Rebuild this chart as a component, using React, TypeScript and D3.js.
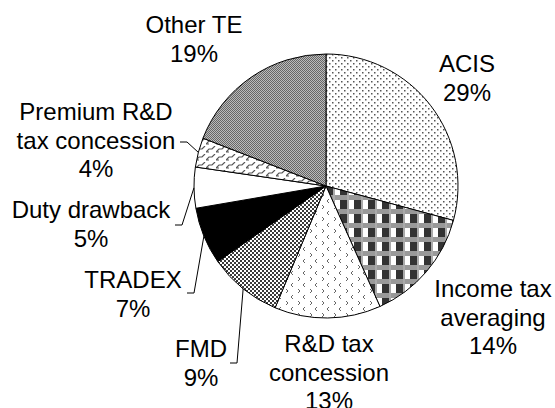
import React, { useEffect, useRef } from 'react';
import * as d3 from 'd3';

// slice names (clockwise from 12 o'clock) and their shares
const names = ['ACIS', 'Income tax averaging', 'R&D tax concession', 'FMD', 'TRADEX', 'Duty drawback', 'Premium R&D tax concession', 'Other TE'];
const shares = [29.2, 14.1, 13.0, 9.0, 7.0, 5.0, 3.6, 19.1];
const pctLabels = ['29%', '14%', '13%', '9%', '7%', '5%', '4%', '19%'];
const labelLines = [
  ['ACIS'],
  ['Income tax', 'averaging'],
  ['R&D tax', 'concession'],
  ['FMD'],
  ['TRADEX'],
  ['Duty drawback'],
  ['Premium R&D', 'tax concession'],
  ['Other TE'],
];

const W = 555, H = 408;
const cx = 326, cy = 186, R = 132;

// label layout: centre x, first baseline, leader line start (or null)
const labelPos: [number, number, number[] | null][] = [
  [467, 72, null],
  [493, 297, null],
  [329, 352, null],
  [201, 357, [230, 363]],
  [133, 288, [187, 293]],
  [91, 218, [175, 225]],
  [96, 120, [180, 142]],
  [194, 33, null],
];

const fills = ['url(#pDots)', 'url(#pPlaid)', 'url(#pDivot)', 'url(#pSq)', '#000', '#fff', 'url(#pWave)', 'url(#pGrey)'];

export default function App() {
  const ref = useRef<SVGSVGElement>(null);

  useEffect(() => {
    const svg = d3.select(ref.current);
    svg.selectAll('*').remove();

    const defs = svg.append('defs');
    // sparse grey dots
    const dots = defs.append('pattern').attr('id', 'pDots').attr('patternUnits', 'userSpaceOnUse').attr('width', 6).attr('height', 6);
    dots.append('rect').attr('width', 6).attr('height', 6).attr('fill', '#fff');
    dots.append('rect').attr('x', 0).attr('y', 0).attr('width', 1.5).attr('height', 1.5).attr('fill', '#555');
    dots.append('rect').attr('x', 3).attr('y', 3).attr('width', 1.5).attr('height', 1.5).attr('fill', '#555');

    // plaid
    const plaid = defs.append('pattern').attr('id', 'pPlaid').attr('patternUnits', 'userSpaceOnUse').attr('width', 14).attr('height', 14);
    plaid.append('rect').attr('width', 14).attr('height', 14).attr('fill', '#fff');
    plaid.append('rect').attr('x', 0).attr('y', 0).attr('width', 7).attr('height', 9).attr('fill', '#333');
    plaid.append('rect').attr('x', 0).attr('y', 9).attr('width', 14).attr('height', 5).attr('fill', '#999');
    plaid.append('rect').attr('x', 7).attr('y', 0).attr('width', 2).attr('height', 14).attr('fill', '#aaa');

    // divot chevrons
    const div = defs.append('pattern').attr('id', 'pDivot').attr('patternUnits', 'userSpaceOnUse').attr('width', 12).attr('height', 12);
    div.append('rect').attr('width', 12).attr('height', 12).attr('fill', '#fff');
    div.append('path').attr('d', 'M3,1 L1,3 L3,5').attr('fill', 'none').attr('stroke', '#666').attr('stroke-width', 1);
    div.append('path').attr('d', 'M8,7 L10,9 L8,11').attr('fill', 'none').attr('stroke', '#666').attr('stroke-width', 1);

    // small dark squares
    const sq = defs.append('pattern').attr('id', 'pSq').attr('patternUnits', 'userSpaceOnUse').attr('width', 4).attr('height', 4);
    sq.append('rect').attr('width', 4).attr('height', 4).attr('fill', '#fff');
    sq.append('rect').attr('x', 0).attr('y', 0).attr('width', 2).attr('height', 2).attr('fill', '#3a3a3a');
    sq.append('rect').attr('x', 2).attr('y', 2).attr('width', 2).attr('height', 2).attr('fill', '#3a3a3a');

    // wave
    const wave = defs.append('pattern').attr('id', 'pWave').attr('patternUnits', 'userSpaceOnUse').attr('width', 10).attr('height', 8);
    wave.append('rect').attr('width', 10).attr('height', 8).attr('fill', '#fff');
    wave.append('path').attr('d', 'M0,6 L3,3 L6,3 L9,0 M0,6 L3,6').attr('fill', 'none').attr('stroke', '#555').attr('stroke-width', 1.2);

    // grey checker
    const grey = defs.append('pattern').attr('id', 'pGrey').attr('patternUnits', 'userSpaceOnUse').attr('width', 2).attr('height', 2);
    grey.append('rect').attr('width', 2).attr('height', 2).attr('fill', '#bbb');
    grey.append('rect').attr('width', 1).attr('height', 1).attr('fill', '#666');
    grey.append('rect').attr('x', 1).attr('y', 1).attr('width', 1).attr('height', 1).attr('fill', '#666');

    const pie = d3.pie<number>().sort(null).value(d => d);
    const arcs = pie(shares);
    const arc = d3.arc<d3.PieArcDatum<number>>().innerRadius(0).outerRadius(R);
    const edge = d3.arc<d3.PieArcDatum<number>>().innerRadius(R).outerRadius(R);

    const g = svg.append('g').attr('transform', `translate(${cx},${cy})`);
    g.selectAll('path.slice')
      .data(arcs)
      .enter()
      .append('path')
      .attr('class', 'slice')
      .attr('d', arc)
      .attr('fill', (d, i) => fills[i])
      .attr('stroke', '#000')
      .attr('stroke-width', 1);

    // leader lines
    arcs.forEach((d, i) => {
      const start = labelPos[i][2];
      if (!start) return;
      const [ex, ey] = edge.centroid(d);
      const pts: [number, number][] = [
        [start[0], start[1]],
        [start[0] + 7, start[1]],
        [ex + cx, ey + cy],
      ];
      svg.append('path')
        .attr('d', d3.line()(pts))
        .attr('fill', 'none')
        .attr('stroke', '#000')
        .attr('stroke-width', 1);
    });

    // labels
    names.forEach((n, i) => {
      const [lx, ly] = labelPos[i];
      const t = svg.append('text')
        .attr('text-anchor', 'middle')
        .attr('font-family', '"Liberation Sans", Arial, sans-serif')
        .attr('font-size', 24)
        .attr('fill', '#000');
      const lines = [...labelLines[i], pctLabels[i]];
      lines.forEach((s, k) => {
        t.append('tspan').attr('x', lx).attr('y', ly + k * 28.5).text(s);
      });
    });
  }, []);

  return (
    <svg ref={ref} width={W} height={H} style={{ position: 'absolute', left: 0, top: 0, background: '#fff' }} />
  );
}
